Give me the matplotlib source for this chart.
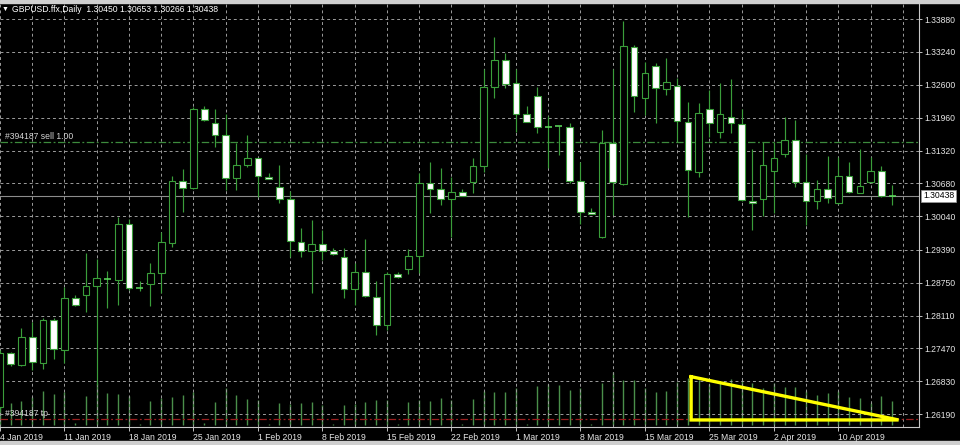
"""gráfico diário GBPUSD no estilo do terminal MT4."""

import matplotlib

matplotlib.use("Agg")

import matplotlib.pyplot as plt
import numpy as np
from matplotlib.patches import Rectangle
from matplotlib.transforms import blended_transform_factory

SYMBOL_TITLE = "GBPUSD.ffx,Daily  1.30450 1.30653 1.30266 1.30438"

OPEN = [
    1.26332, 1.27376, 1.27149, 1.27699, 1.27193, 1.28030, 1.27440, 1.28458, 1.28505, 1.28680,
    1.28822, 1.28802, 1.29892, 1.28652, 1.28719, 1.28933, 1.29528, 1.30728, 1.30586, 1.32129,
    1.31851, 1.31629, 1.30781, 1.31040, 1.31170, 1.30812, 1.30617, 1.30384, 1.29547, 1.29366,
    1.29497, 1.29361, 1.29256, 1.28621, 1.28952, 1.28477, 1.27927, 1.28919, 1.29016, 1.29269,
    1.30684, 1.30567, 1.30378, 1.30520, 1.30703, 1.31020, 1.32563, 1.33082, 1.32629, 1.32038,
    1.32382, 1.31773, 1.31785, 1.31785, 1.30734, 1.30131, 1.29633, 1.31462, 1.30670, 1.33341,
    1.32337, 1.32971, 1.32518, 1.32582, 1.31882, 1.30898, 1.32123, 1.31682, 1.31968, 1.31831,
    1.30345, 1.30372, 1.30917, 1.31248, 1.31520, 1.30715, 1.30345, 1.30573, 1.30294, 1.30831,
    1.30501, 1.30703, 1.30917, 1.30450,
]
HIGH = [
    1.27440, 1.27407, 1.27874, 1.27991, 1.28063, 1.28057, 1.28660, 1.28510, 1.29322, 1.29205,
    1.28983, 1.30022, 1.29989, 1.28783, 1.29127, 1.29742, 1.30826, 1.30956, 1.32168, 1.32187,
    1.32129, 1.32032, 1.31473, 1.31623, 1.31176, 1.30878, 1.31045, 1.30540, 1.29808, 1.29970,
    1.29775, 1.29425, 1.29419, 1.29127, 1.29600, 1.28789, 1.28964, 1.28958, 1.29405, 1.30890,
    1.31104, 1.30975, 1.30812, 1.30567, 1.31170, 1.32901, 1.33524, 1.33224, 1.32907, 1.32187,
    1.32563, 1.31993, 1.31808, 1.31851, 1.31092, 1.30197, 1.31721, 1.32901, 1.33841, 1.33374,
    1.33049, 1.33018, 1.33127, 1.32738, 1.32271, 1.32240, 1.32499, 1.32629, 1.32707, 1.32123,
    1.31345, 1.31493, 1.31493, 1.31968, 1.31915, 1.31254, 1.30748, 1.31221, 1.31201, 1.31092,
    1.31345, 1.31201, 1.31020, 1.30653,
]
LOW = [
    1.26273, 1.27135, 1.27129, 1.27051, 1.27065, 1.27271, 1.27188, 1.28296, 1.28186, 1.26760,
    1.28252, 1.28316, 1.28608, 1.28594, 1.28296, 1.28544, 1.29438, 1.30131, 1.30573, 1.31896,
    1.31396, 1.30553, 1.30553, 1.30995, 1.30423, 1.30758, 1.30294, 1.29256, 1.29256, 1.28544,
    1.29191, 1.29298, 1.28446, 1.28316, 1.28472, 1.27732, 1.27830, 1.28841, 1.28919, 1.28933,
    1.30112, 1.30261, 1.29645, 1.30430, 1.30489, 1.30909, 1.32337, 1.32532, 1.31687, 1.31876,
    1.31656, 1.30975, 1.31234, 1.30684, 1.29886, 1.30086, 1.29614, 1.30067, 1.30650, 1.32077,
    1.32012, 1.31851, 1.32401, 1.31493, 1.30034, 1.30812, 1.31590, 1.31571, 1.31656, 1.30339,
    1.29775, 1.30047, 1.30112, 1.31201, 1.30617, 1.29872, 1.30184, 1.30294, 1.30275, 1.30489,
    1.30495, 1.30689, 1.30411, 1.30266,
]
CLOSE = [
    1.27382, 1.27162, 1.27699, 1.27201, 1.28030, 1.27454, 1.28458, 1.28310, 1.28680, 1.28835,
    1.28818, 1.29892, 1.28652, 1.28656, 1.28933, 1.29536, 1.30728, 1.30586, 1.32129, 1.31915,
    1.31623, 1.30781, 1.31040, 1.31170, 1.30826, 1.30761, 1.30378, 1.29561, 1.29366, 1.29497,
    1.29366, 1.29308, 1.28627, 1.28952, 1.28491, 1.27927, 1.28919, 1.28855, 1.29269, 1.30684,
    1.30567, 1.30378, 1.30520, 1.30436, 1.31026, 1.32563, 1.33082, 1.32615, 1.32026, 1.31882,
    1.31773, 1.31777, 1.31789, 1.30734, 1.30131, 1.30092, 1.31462, 1.30703, 1.33355, 1.32388,
    1.32835, 1.32532, 1.32648, 1.31890, 1.30942, 1.32045, 1.31863, 1.32032, 1.31851, 1.30359,
    1.30306, 1.31040, 1.31182, 1.31526, 1.30703, 1.30345, 1.30573, 1.30403, 1.30831, 1.30508,
    1.30637, 1.30929, 1.30437, 1.30438,
]
# volume de ticks (milhares)
VOLUME = [
    28, 22, 24, 28, 34, 31, 33, 2, 29, 42,
    32, 31, 29, 1, 24, 27, 28, 30, 33, 2,
    23, 37, 30, 26, 25, 1, 22, 21, 22, 23,
    20, 1, 20, 21, 23, 25, 25, 1, 23, 25,
    24, 27, 25, 1, 26, 34, 33, 33, 37, 1,
    39, 41, 40, 35, 37, 1, 42, 53, 45, 45,
    37, 33, 34, 43, 47, 45, 41, 42, 46, 45,
    42, 37, 42, 38, 38, 34, 30, 32, 34, 28,
    27, 22, 29, 24,
]

DATE_LABELS = [
    "4 Jan 2019", "11 Jan 2019", "18 Jan 2019", "25 Jan 2019", "1 Feb 2019",
    "8 Feb 2019", "15 Feb 2019", "22 Feb 2019", "1 Mar 2019", "8 Mar 2019",
    "15 Mar 2019", "25 Mar 2019", "2 Apr 2019", "10 Apr 2019",
]
PRICE_TICKS = [
    1.33880, 1.33240, 1.32600, 1.31960, 1.31320, 1.30680, 1.30040,
    1.29390, 1.28750, 1.28110, 1.27470, 1.26830, 1.26190,
]
BID = 1.30438
ORDER_TICKET = "#394187"
SELL_PRICE = 1.31493
TP_PRICE = 1.26098

# triângulo amarelo desenhado sobre o volume
TRIANGLE_X = [64.3, 64.3, 83.6, 64.3]
TRIANGLE_Y = [1.26921, 1.26079, 1.26079, 1.26921]

CANDLE_EDGE = "#3a9e3a"
DOJI_COLOR = "#5fe05f"
VOLUME_COLOR = "#4a8f4a"
GRID_COLOR = "#9c9c9c"
TEXT_COLOR = "#e6e6e6"


def plot_chart(path: str = "out.png") -> None:
    """desenhar candles, volume e objetos do gráfico."""
    plt.rcParams["font.family"] = ["Liberation Sans", "DejaVu Sans"]

    fig = plt.figure(figsize=(9.6, 4.45), dpi=100, facecolor="black")
    ax = fig.add_axes([0, 18 / 445, 919 / 960, 423 / 445])
    vol_ax = ax.twinx()
    ax.set_zorder(vol_ax.get_zorder() + 1)
    ax.patch.set_visible(False)
    vol_ax.set_facecolor("black")

    x = np.arange(len(OPEN))
    o, h, l, c = (np.array(v) for v in (OPEN, HIGH, LOW, CLOSE))

    # volume no fundo
    vol_ax.vlines(x, 0, VOLUME, color=VOLUME_COLOR, linewidth=1.0)
    vol_ax.set_ylim(-2, 421)
    vol_ax.set_yticks([])
    for spine in vol_ax.spines.values():
        spine.set_visible(False)

    # candles
    ax.vlines(x, l, h, color=CANDLE_EDGE, linewidth=0.85, zorder=3)
    doji = np.abs(c - o) < 0.00015
    body = ~doji
    face = np.where(c > o, "black", "white")
    ax.bar(
        x[body],
        np.abs(c - o)[body],
        bottom=np.minimum(o, c)[body],
        width=0.62,
        color=face[body],
        edgecolor=CANDLE_EDGE,
        linewidth=0.8,
        zorder=4,
    )
    ax.hlines(c[doji], x[doji] - 0.33, x[doji] + 0.33, color=DOJI_COLOR, linewidth=1.1, zorder=4)

    # linhas de preço e ordem
    ax.axhline(BID, color="#8c8c8c", linewidth=0.8, zorder=2)
    ax.axhline(SELL_PRICE, color="#3d8b3d", linewidth=0.9, linestyle=(0, (6, 2, 1.5, 2)), zorder=2)
    ax.axhline(TP_PRICE, color="#9a1f1f", linewidth=0.9, linestyle=(0, (6, 2, 1.5, 2)), zorder=2)

    side = blended_transform_factory(ax.transAxes, ax.transData)
    ax.annotate(f"{ORDER_TICKET} sell 1.00", xy=(0, SELL_PRICE), xycoords=side,
                xytext=(5, 3), textcoords="offset pixels", va="baseline",
                fontsize=6.2, color="#d4d4d4")
    ax.annotate(f"{ORDER_TICKET} tp", xy=(0, TP_PRICE), xycoords=side,
                xytext=(5, 3), textcoords="offset pixels", va="baseline",
                fontsize=6.2, color="#d4d4d4")

    ax.plot(TRIANGLE_X, TRIANGLE_Y, color="#ffff00", linewidth=2.4,
            solid_joinstyle="miter", zorder=6)

    # eixos
    ax.set_xlim(0, 85.5)
    ax.set_ylim(1.25942, 1.34172)
    ax.set_xticks(np.arange(0, len(DATE_LABELS) * 6, 6))
    ax.set_xticklabels(DATE_LABELS)
    ax.set_xticks(np.arange(0, 86, 3), minor=True)
    ax.set_yticks(PRICE_TICKS)
    ax.set_yticklabels([f"{v:.5f}" for v in PRICE_TICKS])
    ax.yaxis.tick_right()
    for label in ax.get_xticklabels():
        label.set_horizontalalignment("left")

    ax.grid(True, which="both", axis="x", color=GRID_COLOR, linewidth=0.7,
            linestyle=(0, (3, 3)), zorder=1)
    ax.grid(True, which="major", axis="y", color=GRID_COLOR, linewidth=0.7,
            linestyle=(0, (3, 3)), zorder=1)

    ax.tick_params(axis="y", direction="out", length=2.5, width=0.7, color="#c0c0c0",
                   labelcolor=TEXT_COLOR, labelsize=6.2, pad=1.5)
    ax.tick_params(axis="x", which="major", direction="out", length=3, width=0.7,
                   color="#c0c0c0", labelcolor=TEXT_COLOR, labelsize=6.2, pad=1.5)
    ax.tick_params(axis="x", which="minor", length=0)

    for name in ("top", "left"):
        ax.spines[name].set_visible(False)
    for name in ("right", "bottom"):
        ax.spines[name].set_color("#c8c8c8")
        ax.spines[name].set_linewidth(0.8)

    ax.annotate(f"{BID:.5f}", xy=(1, BID), xycoords=side, xytext=(4, 0),
                textcoords="offset pixels", va="center", ha="left", fontsize=6.2,
                color="black", annotation_clip=False,
                bbox=dict(boxstyle="square,pad=0.2", fc="white", ec="#9a9a9a", lw=0.5))

    # título e moldura da janela
    fig.text(2 / 960, 1 - 9 / 445, "\u25bc", fontsize=5, color="white", va="center")
    fig.text(12 / 960, 1 - 9 / 445, SYMBOL_TITLE, fontsize=6.2, color="white", va="center")
    fig.patches.append(Rectangle((0, 1 - 3 / 445), 1, 3 / 445, transform=fig.transFigure,
                                 color="#cfcfcf", zorder=0))
    fig.patches.append(Rectangle((0, 0), 1, 4 / 445, transform=fig.transFigure,
                                 color="#cfcfcf", zorder=0))

    fig.savefig(path, dpi=100, facecolor="black")


if __name__ == "__main__":
    plot_chart()
